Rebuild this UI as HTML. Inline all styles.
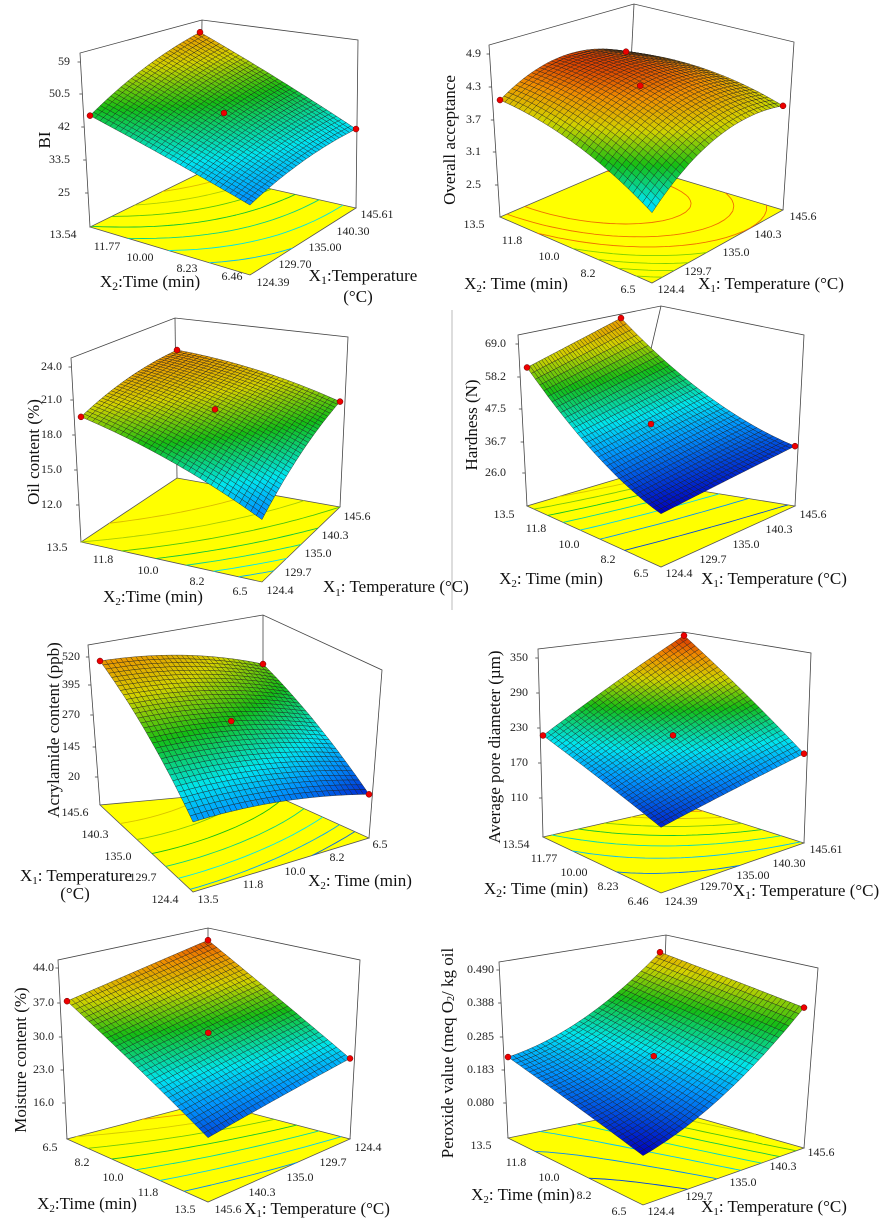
<!DOCTYPE html>
<html><head><meta charset="utf-8"><style>
html,body{margin:0;padding:0;background:#fff}
svg{display:block;font-family:"Liberation Serif",serif}
.t{font-size:12px;fill:#222}
.z{font-size:12px;fill:#222;text-anchor:end;dominant-baseline:middle}
.m{text-anchor:middle;dominant-baseline:middle}
.ti{font-size:17px;fill:#111}
</style></head><body>
<svg id="s" width="882" height="1231" viewBox="0 0 882 1231" xmlns="http://www.w3.org/2000/svg">
<rect width="882" height="1231" fill="#fff"/>
<line x1="452" y1="310" x2="452" y2="610" stroke="#bbb" stroke-width="1"/>
<g id="plots"></g>
<g id="labels">
<!-- Plot 1 -->
<g class="z"><text x="70" y="62">59</text><text x="70" y="94">50.5</text><text x="70" y="127">42</text><text x="70" y="160">33.5</text><text x="70" y="193">25</text></g>
<text class="ti m" font-size="19" transform="translate(46,140) rotate(-90)">BI</text>
<g class="t m"><text x="63" y="235">13.54</text><text x="107" y="247">11.77</text><text x="140" y="258">10.00</text><text x="187" y="269">8.23</text><text x="232" y="277">6.46</text>
<text x="273" y="283">124.39</text><text x="295" y="265">129.70</text><text x="325" y="248">135.00</text><text x="353" y="232">140.30</text><text x="377" y="215">145.61</text></g>
<text class="ti m" x="150" y="283">X<tspan font-size="12" dy="4">2</tspan><tspan dy="-4">:Time (min)</tspan></text>
<text class="ti m" x="363" y="277">X<tspan font-size="12" dy="4">1</tspan><tspan dy="-4">:Temperature</tspan></text>
<text class="ti m" x="358" y="298">(°C)</text>
<!-- Plot 2 -->
<g class="z"><text x="481" y="54">4.9</text><text x="481" y="87">4.3</text><text x="481" y="120">3.7</text><text x="481" y="152">3.1</text><text x="481" y="185">2.5</text></g>
<text class="ti m" font-size="16" transform="translate(451,140) rotate(-90)">Overall acceptance</text>
<g class="t m"><text x="474" y="225">13.5</text><text x="512" y="241">11.8</text><text x="549" y="257">10.0</text><text x="588" y="274">8.2</text><text x="628" y="290">6.5</text>
<text x="671" y="290">124.4</text><text x="698" y="272">129.7</text><text x="736" y="253">135.0</text><text x="768" y="235">140.3</text><text x="803" y="217">145.6</text></g>
<text class="ti m" font-size="15" x="516" y="285">X<tspan font-size="11" dy="4">2</tspan><tspan dy="-4">: Time (min)</tspan></text>
<text class="ti m" font-size="15" x="771" y="285">X<tspan font-size="11" dy="4">1</tspan><tspan dy="-4">: Temperature (°C)</tspan></text>
<!-- Plot 3 -->
<g class="z"><text x="62" y="367">24.0</text><text x="62" y="400">21.0</text><text x="62" y="435">18.0</text><text x="62" y="470">15.0</text><text x="62" y="505">12.0</text></g>
<text class="ti m" font-size="16" transform="translate(35,452) rotate(-90)">Oil content (%)</text>
<g class="t m"><text x="57" y="548">13.5</text><text x="103" y="560">11.8</text><text x="148" y="571">10.0</text><text x="197" y="582">8.2</text><text x="240" y="592">6.5</text>
<text x="280" y="591">124.4</text><text x="298" y="573">129.7</text><text x="318" y="554">135.0</text><text x="335" y="536">140.3</text><text x="357" y="517">145.6</text></g>
<text class="ti m" font-size="16" x="153" y="598">X<tspan font-size="11" dy="4">2</tspan><tspan dy="-4">:Time (min)</tspan></text>
<text class="ti" font-size="16" x="323" y="592">X<tspan font-size="11" dy="4">1</tspan><tspan dy="-4">: Temperature (°C)</tspan></text>
<!-- Plot 4 -->
<g class="z"><text x="506" y="344">69.0</text><text x="506" y="377">58.2</text><text x="506" y="409">47.5</text><text x="506" y="442">36.7</text><text x="506" y="473">26.0</text></g>
<text class="ti m" font-size="16" transform="translate(473,425) rotate(-90)">Hardness (N)</text>
<g class="t m"><text x="504" y="515">13.5</text><text x="536" y="529">11.8</text><text x="569" y="545">10.0</text><text x="608" y="560">8.2</text><text x="641" y="574">6.5</text>
<text x="679" y="574">124.4</text><text x="713" y="560">129.7</text><text x="746" y="545">135.0</text><text x="779" y="530">140.3</text><text x="813" y="515">145.6</text></g>
<text class="ti m" font-size="15" x="551" y="580">X<tspan font-size="11" dy="4">2</tspan><tspan dy="-4">: Time (min)</tspan></text>
<text class="ti m" font-size="15" x="774" y="580">X<tspan font-size="11" dy="4">1</tspan><tspan dy="-4">: Temperature (°C)</tspan></text>
<!-- Plot 5 -->
<g class="z"><text x="80" y="657">520</text><text x="80" y="685">395</text><text x="80" y="715">270</text><text x="80" y="747">145</text><text x="80" y="777">20</text></g>
<text class="ti m" font-size="16" transform="translate(55,730) rotate(-90)">Acrylamide content (ppb)</text>
<g class="t m"><text x="75" y="813">145.6</text><text x="95" y="835">140.3</text><text x="118" y="857">135.0</text><text x="143" y="878">129.7</text><text x="165" y="900">124.4</text>
<text x="208" y="900">13.5</text><text x="253" y="885">11.8</text><text x="295" y="872">10.0</text><text x="337" y="858">8.2</text><text x="380" y="845">6.5</text></g>
<text class="ti m" font-size="16" x="76" y="877">X<tspan font-size="11" dy="4">1</tspan><tspan dy="-4">: Temperature</tspan></text>
<text class="ti m" font-size="16" x="75" y="895">(°C)</text>
<text class="ti m" font-size="16" x="360" y="882">X<tspan font-size="11" dy="4">2</tspan><tspan dy="-4">: Time (min)</tspan></text>
<!-- Plot 6 -->
<g class="z"><text x="528" y="658">350</text><text x="528" y="693">290</text><text x="528" y="728">230</text><text x="528" y="763">170</text><text x="528" y="798">110</text></g>
<text class="ti m" font-size="18" transform="translate(496,747) rotate(-90)">Average pore diameter (µm)</text>
<g class="t m"><text x="516" y="845">13.54</text><text x="544" y="859">11.77</text><text x="574" y="873">10.00</text><text x="608" y="887">8.23</text><text x="638" y="902">6.46</text>
<text x="681" y="902">124.39</text><text x="716" y="887">129.70</text><text x="753" y="876">135.00</text><text x="789" y="864">140.30</text><text x="826" y="850">145.61</text></g>
<text class="ti m" font-size="18" x="536" y="890">X<tspan font-size="12" dy="4">2</tspan><tspan dy="-4">: Time (min)</tspan></text>
<text class="ti m" font-size="18" x="806" y="892">X<tspan font-size="12" dy="4">1</tspan><tspan dy="-4">: Temperature (°C)</tspan></text>
<!-- Plot 7 -->
<g class="z"><text x="54" y="968">44.0</text><text x="54" y="1003">37.0</text><text x="54" y="1037">30.0</text><text x="54" y="1070">23.0</text><text x="54" y="1103">16.0</text></g>
<text class="ti m" font-size="15" transform="translate(22,1060) rotate(-90)">Moisture content (%)</text>
<g class="t m"><text x="50" y="1148">6.5</text><text x="82" y="1163">8.2</text><text x="113" y="1178">10.0</text><text x="148" y="1193">11.8</text><text x="185" y="1210">13.5</text>
<text x="228" y="1210">145.6</text><text x="262" y="1193">140.3</text><text x="300" y="1178">135.0</text><text x="333" y="1163">129.7</text><text x="368" y="1148">124.4</text></g>
<text class="ti m" font-size="15" x="87" y="1205">X<tspan font-size="11" dy="4">2</tspan><tspan dy="-4">:Time (min)</tspan></text>
<text class="ti m" font-size="15" x="317" y="1210">X<tspan font-size="11" dy="4">1</tspan><tspan dy="-4">: Temperature (°C)</tspan></text>
<!-- Plot 8 -->
<g class="z"><text x="494" y="970">0.490</text><text x="494" y="1003">0.388</text><text x="494" y="1037">0.285</text><text x="494" y="1070">0.183</text><text x="494" y="1103">0.080</text></g>
<text class="ti m" font-size="14" transform="translate(449,1053) rotate(-90)">Peroxide value (meq O<tspan font-size="10" dy="3">2</tspan><tspan dy="-3">/ kg oil</tspan></text>
<g class="t m"><text x="481" y="1146">13.5</text><text x="516" y="1163">11.8</text><text x="549" y="1178">10.0</text><text x="584" y="1196">8.2</text><text x="619" y="1212">6.5</text>
<text x="661" y="1212">124.4</text><text x="699" y="1197">129.7</text><text x="743" y="1183">135.0</text><text x="783" y="1167">140.3</text><text x="821" y="1153">145.6</text></g>
<text class="ti m" font-size="15" x="523" y="1196">X<tspan font-size="11" dy="4">2</tspan><tspan dy="-4">: Time (min)</tspan></text>
<text class="ti m" font-size="15" x="774" y="1208">X<tspan font-size="11" dy="4">1</tspan><tspan dy="-4">: Temperature (°C)</tspan></text>
</g>
</svg>
<script>
(function(){
var P=[
{L:[90,227],F:[250,275],R:[356,208],B:[200,173],H:[174,189,168,153],v:[0.64,0.37,0.47,0.92],cs:0,ct:0.03,c:[0.2,0.85],top:[[80,53],[202,20],[358,40]],zt:[62,94,127,160,193],warm:0},
{L:[500,217],F:[652,283],R:[783,210],B:[626,163],H:[172,185,168,159],v:[0.68,0.38,0.62,0.7],cs:0.06,ct:0.12,c:[0.3,0.97],top:[[489,45],[634,4],[794,42]],zt:[54,87,120,152,185],warm:1},
{L:[81,542],F:[262,582],R:[340,507],B:[177,478],H:[184,195,170,160],v:[0.68,0.32,0.62,0.8],cs:0.03,ct:0.03,c:[0.18,0.85],top:[[71,358],[175,318],[348,337]],zt:[367,400,435,470,505],warm:0},
{L:[527,506],F:[661,567],R:[795,506],B:[621,478],H:[171,190,171,172],v:[0.81,0.28,0.35,0.93],cs:-0.08,ct:0,c:[0.0,0.85],top:[[518,335],[661,306],[804,335]],zt:[344,377,409,442,473],warm:0},
{L:[100,805],F:[193,892],R:[369,838],B:[263,790],H:[160,175,168,175],v:[0.9,0.4,0.26,0.72],cs:0.04,ct:0.04,c:[0.05,0.85],top:[[88,645],[263,615],[382,670]],zt:[657,685,715,747,777],warm:0},
{L:[543,837],F:[661,893],R:[804,843],B:[684,805],H:[188,205,190,173],v:[0.54,0.32,0.47,0.98],cs:0,ct:0,c:[0.05,1.0],top:[[538,649],[683,632],[811,653]],zt:[658,693,728,763,798],warm:0},
{L:[67,1139],F:[208,1202],R:[350,1139],B:[208,1102],H:[179,195,179,174],v:[0.77,0.33,0.45,0.93],cs:0,ct:0,c:[0.1,0.95],top:[[58,960],[208,928],[360,960]],zt:[968,1003,1037,1070,1103],warm:0},
{L:[508,1138],F:[643,1205],R:[804,1148],B:[660,1107],H:[176,190,180,172],v:[0.46,0.26,0.78,0.9],cs:0,ct:-0.08,c:[0.0,0.8],top:[[499,962],[666,935],[818,968]],zt:[970,1003,1037,1070,1103],warm:0}
];
var st=[[0,[0,0,190]],[0.22,[0,150,255]],[0.35,[0,230,240]],[0.55,[20,190,20]],[0.72,[210,210,0]],[0.87,[240,140,0]],[1,[210,40,0]]];
function cm(x){x=Math.max(0,Math.min(1,x));for(var i=1;i<st.length;i++){if(x<=st[i][0]){var a=st[i-1],b=st[i],f=(x-a[0])/(b[0]-a[0]);return "rgb("+[0,1,2].map(function(k){return Math.round(a[1][k]+(b[1][k]-a[1][k])*f)}).join(",")+")";}}return "rgb(210,40,0)";}
var g=document.getElementById("plots"),out=[];
function bl(q,s,t){return q[0]*(1-s)*(1-t)+q[1]*s*(1-t)+q[2]*s*t+q[3]*(1-s)*t;}
P.forEach(function(p){
 var N=32,fl=function(s,t){return [bl([p.L[0],p.F[0],p.R[0],p.B[0]],s,t),bl([p.L[1],p.F[1],p.R[1],p.B[1]],s,t)];};
 var vf=function(s,t){return bl(p.v,s,t)+p.cs*4*s*(1-s)+p.ct*4*t*(1-t);};
 var hf=function(s,t){return bl(p.H,s,t);};
 var V=[],mn=9,mx=-9,i,j;
 for(i=0;i<=N;i++){V[i]=[];for(j=0;j<=N;j++){var v=vf(i/N,j/N);V[i][j]=v;if(v<mn)mn=v;if(v>mx)mx=v;}}
 var col=function(v){return cm(p.c[0]+(v-mn)/(mx-mn)*(p.c[1]-p.c[0]));};
 var sp=function(i,j){var f=fl(i/N,j/N),h=hf(i/N,j/N);return [f[0],f[1]-V[i][j]*h];};
 var Lt=p.top[0],Bt=p.top[1],Rt=p.top[2];
 out.push('<polyline points="'+[p.L,Lt,Bt,Rt,p.R].map(function(a){return a.join(",")}).join(" ")+'" fill="none" stroke="#444" stroke-width="0.8"/>');
 out.push('<line x1="'+Bt[0]+'" y1="'+Bt[1]+'" x2="'+p.B[0]+'" y2="'+p.B[1]+'" stroke="#444" stroke-width="0.8"/>');
 p.zt.forEach(function(y){var x=p.L[0]+(Lt[0]-p.L[0])*(p.L[1]-y)/(p.L[1]-Lt[1]);out.push('<line x1="'+(x-3)+'" y1="'+y+'" x2="'+x+'" y2="'+y+'" stroke="#444" stroke-width="0.8"/>');});
 out.push('<polygon points="'+[p.L,p.F,p.R,p.B].map(function(a){return a.join(",")}).join(" ")+'" fill="#ffff00" stroke="#555" stroke-width="0.8"/>');
 var M=20,CV=[];for(i=0;i<=M;i++){CV[i]=[];for(j=0;j<=M;j++)CV[i][j]=vf(i/M,j/M);}
 var cs="";for(var l=1;l<8;l++){var lv=mn+(mx-mn)*l/8;var d="";
  for(i=0;i<M;i++)for(j=0;j<M;j++){var c=[[i,j],[i+1,j],[i+1,j+1],[i,j+1]],pts=[];
   for(var e=0;e<4;e++){var A=c[e],Bc=c[(e+1)%4],va=CV[A[0]][A[1]],vb=CV[Bc[0]][Bc[1]];
    if((va<lv)!=(vb<lv)){var f=(lv-va)/(vb-va);var q=fl((A[0]+(Bc[0]-A[0])*f)/M,(A[1]+(Bc[1]-A[1])*f)/M);pts.push(q);}}
   if(pts.length>=2)d+="M"+pts[0][0].toFixed(1)+","+pts[0][1].toFixed(1)+"L"+pts[1][0].toFixed(1)+","+pts[1][1].toFixed(1);}
  var cc=p.warm?(l>4?"#f07000":"#7fd000"):col(lv);
  cs+='<path d="'+d+'" fill="none" stroke="'+cc+'" stroke-width="0.9"/>';}
 out.push(cs);
 var cells=[];
 for(i=0;i<N;i++)for(j=0;j<N;j++){var a1=sp(i,j),a2=sp(i+1,j),a3=sp(i+1,j+1),a4=sp(i,j+1);
  var dep=fl((i+.5)/N,(j+.5)/N)[1];var vv=(V[i][j]+V[i+1][j]+V[i+1][j+1]+V[i][j+1])/4;
  cells.push([dep,'<polygon points="'+[a1,a2,a3,a4].map(function(a){return a[0].toFixed(1)+","+a[1].toFixed(1)}).join(" ")+'" fill="'+col(vv)+'"/>']);}
 cells.sort(function(a,b){return a[0]-b[0]});
 out.push('<g stroke="#1a1a1a" stroke-width="0.45" stroke-opacity="0.85">'+cells.map(function(c){return c[1]}).join("")+'</g>');
 [[0,0],[0,1],[1,1]].forEach(function(q){var s=sp(q[0]*N,q[1]*N);out.push('<circle cx="'+s[0]+'" cy="'+s[1]+'" r="3" fill="#e00" stroke="#600" stroke-width="0.5"/>');});
 var c0=sp(N/2,N/2);out.push('<circle cx="'+c0[0]+'" cy="'+c0[1]+'" r="3" fill="#e00" stroke="#600" stroke-width="0.5"/>');
});
g.innerHTML=out.join("");
})();
</script>
</body></html>
